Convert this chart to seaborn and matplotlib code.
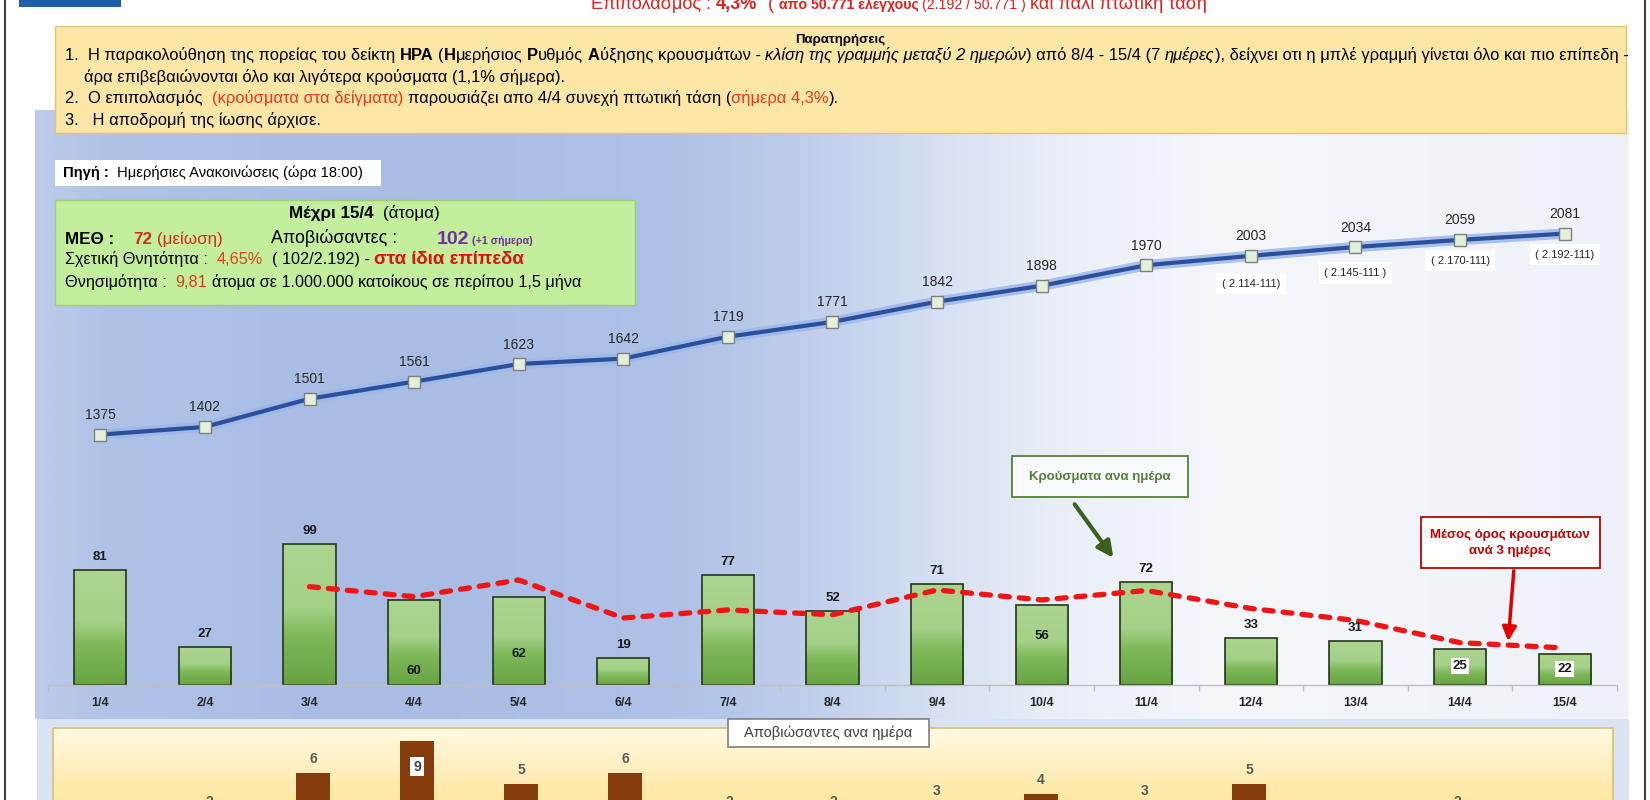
import numpy as np
import pandas as pd
import matplotlib
matplotlib.use("Agg")
import matplotlib.pyplot as plt
import seaborn as sns
from matplotlib.colors import LinearSegmentedColormap
from matplotlib.patches import Rectangle

# ---------------- data ----------------
dates = ['1/4', '2/4', '3/4', '4/4', '5/4', '6/4', '7/4', '8/4', '9/4', '10/4',
         '11/4', '12/4', '13/4', '14/4', '15/4']
daily_cases = [81, 27, 99, 60, 62, 19, 77, 52, 71, 56, 72, 33, 31, 25, 22]
cumulative_cases = [1375, 1402, 1501, 1561, 1623, 1642, 1719, 1771, 1842, 1898,
                    1970, 2003, 2034, 2059, 2081]
avg_dates = ['3/4', '4/4', '5/4', '6/4', '7/4', '8/4', '9/4', '10/4', '11/4',
             '12/4', '13/4', '14/4', '15/4']
avg_3day = [69.0, 62.0, 73.7, 47.0, 52.7, 49.3, 66.7, 59.7, 66.3, 53.7, 45.3, 29.7, 26.0]
daily_deaths = [1, 2, 6, 9, 5, 6, 2, 2, 3, 4, 3, 5, 1, 2, 1]
cumulative_notes = {'12/4': '( 2.114-111)', '13/4': '( 2.145-111 )',
                    '14/4': '( 2.170-111)', '15/4': '( 2.192-111)'}

# ---------------- setup ----------------
sns.set_theme(style="white")
FONT = ['Liberation Sans', 'DejaVu Sans']
plt.rcParams['font.family'] = FONT

W, H = 1650, 800
fig = plt.figure(figsize=(16.5, 8), dpi=100)
fig.patch.set_facecolor('white')

bg = fig.add_axes([0, 0, 1, 1], zorder=0)
bg.axis('off')
ov = fig.add_axes([0, 0, 1, 1], zorder=10)
ov.axis('off')
ov.patch.set_alpha(0)
for a in (bg, ov):
    a.set_xlim(0, W)
    a.set_ylim(H, 0)


def grad_rect(ax, x0, y0, x1, y1, stops, vertical=False, z=1):
    cmap = LinearSegmentedColormap.from_list('g', stops)
    g = np.linspace(0, 1, 256)
    arr = g[:, None] if vertical else g[None, :]
    ax.imshow(arr, cmap=cmap, extent=[x0, x1, y1, y0], origin='upper',
              aspect='auto', zorder=z, interpolation='bicubic')


# chart background
grad_rect(bg, 35, 110, 1629, 719,
          [(0.0, '#BCCBEA'), (0.04, '#B0C3E7'), (0.2, '#A8BCE4'), (0.4, '#AEC1E6'),
           (0.5, '#C3D1EC'), (0.58, '#DAE3F3'), (0.65, '#EBF0F8'), (0.75, '#F4F6FA'),
           (1.0, '#EEF2F8')], z=1)
# bottom panel
bg.add_patch(Rectangle((37, 719), 1592, 90, facecolor='#D9E3F2', edgecolor='none', zorder=2))
grad_rect(bg, 53, 728, 1613, 800,
          [(0, '#FFF8E2'), (0.5, '#FFF0C2'), (1, '#FFE8A2')], vertical=True, z=3)
bg.add_patch(Rectangle((53, 728), 1560, 80, facecolor='none', edgecolor='#D8C070',
                       lw=1.2, zorder=4))
# notes box
bg.add_patch(Rectangle((55, 26), 1571, 107, facecolor='#FCE6A6', edgecolor='#E0C46E',
                       lw=1, zorder=5))
# source box
bg.add_patch(Rectangle((55, 160), 326, 26, facecolor='white', edgecolor='none', zorder=5))
# info box
bg.add_patch(Rectangle((55, 200), 580, 105, facecolor='#C3EE9C', edgecolor='#9CCB7B',
                       lw=1, zorder=5))
bg.set_xlim(0, W)
bg.set_ylim(H, 0)

# ---------------- main chart ----------------
pos = np.arange(len(dates))
ax = fig.add_axes([48 / W, 1 - 685 / H, (1617 - 48) / W, (685 - 130) / H], zorder=2)
ax.patch.set_alpha(0)
df = pd.DataFrame({'date': dates, 'cases': daily_cases})
sns.barplot(data=df, x='date', y='cases', order=dates, ax=ax, width=0.5,
            color='#8DC26A', saturation=1, edgecolor='#24361A', linewidth=1.2,
            errorbar=None)
bar_cmap = LinearSegmentedColormap.from_list(
    'bar', [(0, '#67A441'), (0.35, '#7FB95A'), (0.55, '#A4D087'), (1, '#ACD58F')])
for p in list(ax.patches):
    x0, w, h = p.get_x(), p.get_width(), p.get_height()
    im = ax.imshow(np.linspace(0, 1, 128)[:, None], cmap=bar_cmap,
                   extent=[x0, x0 + w, 0, h], origin='lower', aspect='auto',
                   zorder=1.5, interpolation='bicubic')
    im.set_clip_path(p)
    p.set_facecolor('none')
    p.set_zorder(2)

avg_pos = [dates.index(d) for d in avg_dates]
sns.lineplot(x=avg_pos, y=avg_3day, ax=ax, color='#F01414', lw=3.8, zorder=4)
ma = ax.lines[-1]
ma.set_dashes((1.7, 1.9))
ma.set_dash_capstyle('round')

inside = {'4/4': 0.16, '5/4': 0.35, '10/4': 0.62, '14/4': 0.53, '15/4': 0.5}
for i, (d, v) in enumerate(zip(dates, daily_cases)):
    if d in inside:
        box = dict(boxstyle='square,pad=0.15', fc='white', ec='none') if d in ('14/4', '15/4') else None
        ax.text(i, v * inside[d], str(v), ha='center', va='center', fontsize=9.5,
                fontweight='bold', color='#1A1A1A', bbox=box, zorder=5)
    else:
        ax.annotate(str(v), (i, v), xytext=(0, 5), textcoords='offset points',
                    ha='center', va='bottom', fontsize=9.5, fontweight='bold',
                    color='#1A1A1A', zorder=5)

ax.set_xlim(-0.5, len(dates) - 0.5)
ax.set_ylim(0, 389.5)
ax.set_yticks([])
ax.set_xticks(pos)
ax.set_xticklabels(dates, fontsize=9, fontweight='bold', color='#262626')
ax.set_xticks(np.arange(-0.5, len(dates), 1), minor=True)
ax.tick_params(axis='x', which='major', length=0, pad=9)
ax.tick_params(axis='x', which='minor', length=4.5, color='#BFBFBF', width=1, bottom=True)
ax.set_xlabel('')
ax.set_ylabel('')
for s in ('top', 'left', 'right'):
    ax.spines[s].set_visible(False)
ax.spines['bottom'].set_color('#BFBFBF')
ax.spines['bottom'].set_linewidth(1)

# cumulative line on twin axis
ax2 = ax.twinx()
ax2.set_zorder(3)
ax2.patch.set_visible(False)
sns.lineplot(x=pos, y=cumulative_cases, ax=ax2, color='#9DB8E8', lw=7.5, alpha=0.85)
sns.lineplot(x=pos, y=cumulative_cases, ax=ax2, color='#2B4F9C', lw=3, marker='s',
             markersize=9, markerfacecolor='#E3F0DA', markeredgecolor='#7F7F7F',
             markeredgewidth=1)
for i, v in enumerate(cumulative_cases):
    ax2.annotate(str(v), (i, v), xytext=(0, 9), textcoords='offset points',
                 ha='center', va='bottom', fontsize=10, color='#262626')
note_off = {'12/4': -28, '13/4': -26, '14/4': -21, '15/4': -21}
for d, txt in cumulative_notes.items():
    i = dates.index(d)
    ax2.annotate(txt, (i, cumulative_cases[i]), xytext=(0, note_off[d]),
                 textcoords='offset pixels', ha='center', va='center', fontsize=8,
                 color='#262626',
                 bbox=dict(boxstyle='square,pad=0.5', fc='white', ec='none'))
ax2.set_ylim(495.5, 2445)
ax2.set_yticks([])
ax2.set_ylabel('')
for s in ax2.spines.values():
    s.set_visible(False)

# ---------------- deaths chart ----------------
axd = fig.add_axes([53 / W, (H - 837) / H, 1560 / W, 109 / H], zorder=2)
axd.patch.set_alpha(0)
ddf = pd.DataFrame({'date': dates, 'deaths': daily_deaths})
sns.barplot(data=ddf, x='date', y='deaths', order=dates, ax=axd, width=0.32,
            color='#843C0C', saturation=1, errorbar=None, linewidth=0)
for i, (d, v) in enumerate(zip(dates, daily_deaths)):
    if d == '4/4':
        axd.text(i, v * 0.73, str(v), ha='center', va='center', fontsize=10,
                 fontweight='bold', color='#404040',
                 bbox=dict(boxstyle='square,pad=0.2', fc='white', ec='none'))
    else:
        axd.annotate(str(v), (i, v), xytext=(0, 5), textcoords='offset points',
                     ha='center', va='bottom', fontsize=10, fontweight='bold',
                     color='#595959')
axd.set_xlim(-0.5, len(dates) - 0.5)
axd.set_ylim(0, 109 / 10.7)
axd.axis('off')

# ---------------- rich text ----------------
renderer = fig.canvas.get_renderer()
_sw = {}


def space_w(fs, wt, sty):
    key = (round(fs, 3), wt, sty)
    if key not in _sw:
        t1 = ov.text(0, 0, 'n n', fontsize=fs, fontweight=wt, fontstyle=sty, family=FONT)
        t2 = ov.text(0, 0, 'nn', fontsize=fs, fontweight=wt, fontstyle=sty, family=FONT)
        _sw[key] = t1.get_window_extent(renderer).width - t2.get_window_extent(renderer).width
        t1.remove()
        t2.remove()
    return _sw[key]


def rich(x, y, runs, size, ha='left', fit=None, z=12):
    def build(sz):
        arts, cur = [], x
        for txt, st in runs:
            fs = sz * st.get('rel', 1)
            wt = st.get('weight', 'normal')
            sty = st.get('style', 'normal')
            core = txt.strip(' ')
            lead = len(txt) - len(txt.lstrip(' '))
            trail = len(txt) - len(txt.rstrip(' '))
            sw = space_w(fs, wt, sty)
            cur += lead * sw
            if core:
                t = ov.text(cur, y, core, fontsize=fs, fontweight=wt, fontstyle=sty,
                            color=st.get('color', '#000000'), family=FONT,
                            ha='left', va='baseline', zorder=z)
                cur += t.get_window_extent(renderer).width
                arts.append(t)
            cur += trail * sw
        return arts, cur - x

    arts, w = build(size)
    if fit is not None:
        for a in arts:
            a.remove()
        size = size * fit / w
        arts, w = build(size)
    if ha == 'center':
        for a in arts:
            px, py = a.get_position()
            a.set_position((px - w / 2, py))
    return size


N = {}
B = {'weight': 'bold'}
I = {'style': 'italic'}
RED = '#E8391E'
HRED = '#E0201A'

# header (partly cut at the top, as in the original)
rich(899, 9, [("Επιπολασμός : ", {'color': HRED}),
              ("4,3%", {'color': HRED, 'weight': 'bold'}),
              ("  ( ", {'color': HRED}),
              ("από 50.771 ελέγχους", {'color': HRED, 'weight': 'bold', 'rel': 0.78}),
              (" (2.192 / 50.771 ) ", {'color': HRED, 'rel': 0.78}),
              ("και πάλι πτωτική τάση", {'color': HRED})],
     14, ha='center', fit=619)

# notes
rich(840, 43, [("Παρατηρήσεις", B)], 9.5, ha='center')
fs_notes = rich(65, 60, [
    ("1.  Η παρακολούθηση της πορείας του δείκτη ", N), ("ΗΡΑ", B), (" (", N),
    ("Η", B), ("μερήσιος ", N), ("Ρ", B), ("υθμός ", N), ("Α", B),
    ("ύξησης κρουσμάτων - ", N), ("κλίση της γραμμής μεταξύ 2 ημερών", I),
    (") από 8/4 - 15/4 (7 ", N), ("ημέρες", I),
    ("), δείχνει οτι η μπλέ γραμμή γίνεται όλο και πιο επίπεδη -", N)],
    11, fit=1555)
rich(84, 82, [("άρα επιβεβαιώνονται όλο και λιγότερα κρούσματα (1,1% σήμερα).", N)], fs_notes)
rich(65, 103, [("2.  Ο επιπολασμός  ", N), ("(κρούσματα στα δείγματα)", {'color': RED}),
               (" παρουσιάζει απο 4/4 συνεχή πτωτική τάση (", N),
               ("σήμερα 4,3%", {'color': RED}), (").", N)], fs_notes)
rich(65, 125, [("3.   Η αποδρομή της ίωσης άρχισε.", N)], fs_notes)

# source
rich(63, 177, [("Πηγή :", B), ("  Ημερήσιες Ανακοινώσεις (ώρα 18:00)", N)], 9.5, fit=300)

# info box
rich(364, 218, [("Μέχρι 15/4", B), ("  (άτομα)", N)], 11, ha='center', fit=151)
rich(65, 244, [("ΜΕΘ :", B), ("  ", N), ("72", {'weight': 'bold', 'color': '#D42A1E'}),
               (" (μείωση)", {'color': '#D42A1E'})], 14, fit=158)
rich(271, 243, [("Αποβιώσαντες :", N)], 10.5, fit=127)
rich(437, 244, [("102", {'weight': 'bold', 'color': '#7030A0'}),
                (" (+1 σήμερα)", {'weight': 'bold', 'color': '#7030A0', 'rel': 0.55})],
     14)
rich(65, 264, [("Σχετική Θνητότητα :  ", N), ("4,65%", {'color': '#E0441A'}),
               ("  ( 102/2.192) - ", N),
               ("στα ίδια επίπεδα", {'weight': 'bold', 'color': '#E01010', 'rel': 1.15})],
     10.5, fit=459)
rich(65, 287, [("Θνησιμότητα :  ", N), ("9,81", {'color': '#D4401A'}),
               (" άτομα σε 1.000.000 κατοίκους σε περίπου 1,5 μήνα", N)], 10.5, fit=521)

# callouts
ov.add_patch(Rectangle((1012, 456), 176, 41, facecolor='#F7F9FC', edgecolor='#548235',
                       lw=1.3, zorder=11))
ov.text(1100, 477, "Κρούσματα ανα ημέρα", ha='center', va='center', fontsize=9.5,
        fontweight='bold', color='#548235', zorder=12)
ov.annotate('', xy=(1115, 560), xytext=(1073, 502), zorder=12,
            arrowprops=dict(arrowstyle='-|>,head_length=0.8,head_width=0.4',
                            color='#3A5F1E', lw=3))
ov.add_patch(Rectangle((1421, 517), 179, 51, facecolor='white', edgecolor='#C00000',
                       lw=1.3, zorder=11))
ov.text(1510, 543, "Μέσος όρος κρουσμάτων\nανά 3 ημέρες", ha='center', va='center',
        fontsize=9.5, fontweight='bold', color='#C00000', zorder=12, linespacing=1.35)
ov.annotate('', xy=(1508, 644), xytext=(1514, 568), zorder=12,
            arrowprops=dict(arrowstyle='-|>,head_length=0.7,head_width=0.35',
                            color='#E00000', lw=2.5))

# deaths title box
ov.add_patch(Rectangle((728, 719), 201, 28, facecolor='white', edgecolor='#808080',
                       lw=1.2, zorder=11))
ov.text(828.5, 733, "Αποβιώσαντες ανα ημέρα", ha='center', va='center', fontsize=10.5,
        color='#404040', zorder=12)

# frame and logo
ov.add_patch(Rectangle((19, -2), 102, 9, facecolor='#1F5EA8', edgecolor='none', zorder=12))
ov.add_patch(Rectangle((5, -5), 1640, 810, facecolor='none', edgecolor='#404040',
                       lw=1.5, zorder=13))
ov.set_xlim(0, W)
ov.set_ylim(H, 0)

fig.savefig('out.png', dpi=100)
